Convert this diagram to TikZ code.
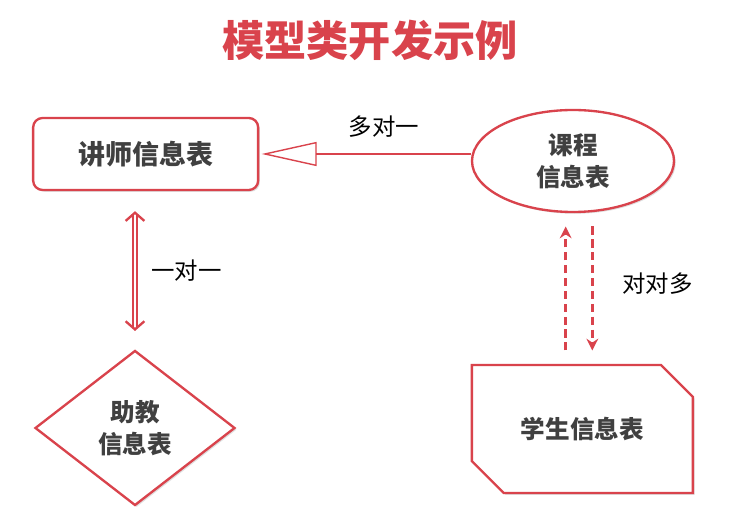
\documentclass[tikz,border=0pt]{standalone}
\usepackage{fontspec}
\newfontfamily\cjk{Noto Sans CJK SC}
\usepackage{tikz}
\usetikzlibrary{shapes,shapes.misc,shadows}
\usetikzlibrary{positioning, arrows.meta, shapes.geometric, calc}
\definecolor{modred}{HTML}{D9434C}
\definecolor{modgray}{HTML}{404040}

\begin{document}
\begin{tikzpicture}[
    >={Stealth[length=10pt, width=10pt]},
    shade/.style={drop shadow={opacity=0.25, shadow xshift=1.5pt, shadow yshift=-1.5pt}},
    tbl/.style={draw=modred, line width=2pt, fill=white, shade, text=modgray, align=center, inner sep=0pt, font=\cjk\bfseries\fontsize{21}{27}\selectfont},
    rel/.style={text=black, font=\cjk\fontsize{20}{24}\selectfont},
    dasharrow/.style={->, modred, line width=2.2pt, dash pattern=on 7pt off 4pt, shorten <=0.4cm, shorten >=0.4cm}
]
\useasboundingbox (0,0) rectangle (21.99,15.33);

% Titolo
\node[text=modred, font=\cjk\bfseries\fontsize{36}{40}\selectfont] (title) at (11.1,14.13) {模型类开发示例};

% Tabelle
\node[tbl, rounded corners=8pt, minimum width=6.75cm, minimum height=2.16cm, font=\cjk\bfseries\fontsize{23}{27}\selectfont] (teacher) at (4.37,10.71) {讲师信息表};
\node[tbl, ellipse, minimum width=6.06cm, minimum height=3.06cm] (course) at (17.19,10.5) {课程\\信息表};
\node[tbl, diamond, minimum width=6cm, minimum height=4.65cm] (assist) at (4.05,2.49) {助教\\信息表};
\node[tbl, chamfered rectangle, chamfered rectangle corners={north east, south west}, chamfered rectangle sep=0.6cm, minimum width=6.63cm, minimum height=3.84cm] (student) at (17.47,2.46) {学生信息表};

% Relazioni
\draw[modred, line width=1.2pt, -{Triangle[open, length=1.65cm, width=0.72cm]}, shorten >=2pt] (course.west |- teacher.east) -- (teacher.east) node[rel, pos=0.41, above=0.35cm] {多对一};

\draw[modred, line width=1.4pt, double, double distance=1.6pt, {Straight Barb[length=7pt, width=16pt, line width=2pt]}-{Straight Barb[length=7pt, width=16pt, line width=2pt]}, shorten <=0.55cm, shorten >=0.6cm] (assist.north) -- (assist.north |- teacher.south) node[rel, pos=0.5, right=0.35cm] {一对一};

\draw[dasharrow] ([xshift=-0.5cm]student.north) -- ([xshift=-0.5cm]student.north |- course.south);
\draw[dasharrow] ([xshift=0.3cm]student.north |- course.south) -- ([xshift=0.3cm]student.north) node[rel, pos=0.47, right=0.75cm] {对对多};

\end{tikzpicture}
\end{document}
